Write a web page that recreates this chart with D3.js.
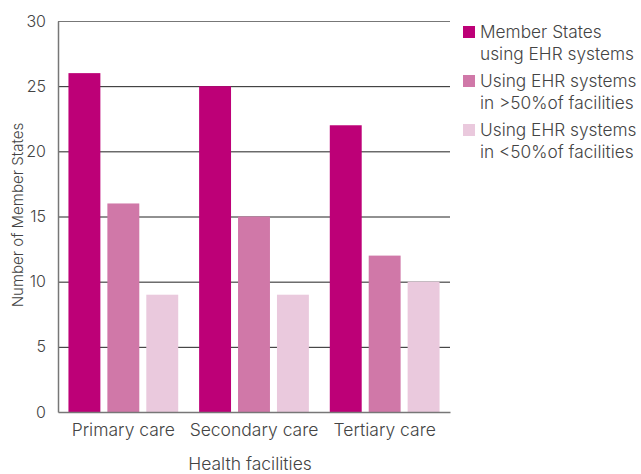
<!DOCTYPE html>
<html><head><meta charset="utf-8">
<script src="https://cdn.jsdelivr.net/npm/d3@7"></script>
<style>body{margin:0;background:#fff}text{font-family:Inter,"Noto Sans",sans-serif;font-weight:300}</style>
</head><body><svg id="c" width="641" height="474"></svg>
<script>
const categories = ["Primary care","Secondary care","Tertiary care"];
const seriesNames = [["Member States","using EHR systems"],["Using EHR systems","in >50%of facilities"],["Using EHR systems","in <50%of facilities"]];
const memberStates = [26,25,22];
const above50 = [16,15,12];
const below50 = [9,9,10];
const yTicks = [0,5,10,15,20,25,30];
const colors = ["#BD0077","#D078A8","#EAC9DD"];
const series = [memberStates, above50, below50];

const svg = d3.select("#c");
const L=58, R=450, T=21, B=412;
const x0 = d3.scaleBand().domain(categories).range([L,R]).paddingInner(0.16).paddingOuter(0.08);
const x1 = d3.scaleBand().domain([0,1,2]).range([0,x0.bandwidth()]).paddingInner(0.18);
const y = d3.scaleLinear().domain([0,30]).range([B,T]);

// gridlines
svg.append("g").selectAll("line").data(yTicks.filter(d=>d>0)).join("line")
 .attr("x1",L).attr("x2",R).attr("y1",d=>y(d)+0.5).attr("y2",d=>y(d)+0.5)
 .attr("stroke",d=>d===30?"#777":"#222").attr("stroke-width",1);

// bars
categories.forEach((c,i)=>{
  series.forEach((s,j)=>{
    svg.append("rect").attr("x",x0(c)+x1(j)).attr("width",x1.bandwidth())
      .attr("y",y(s[i])).attr("height",y(0)-y(s[i])).attr("fill",colors[j]);
  });
});

// axes
const ya = svg.append("g").attr("transform",`translate(${L},0)`)
  .call(d3.axisLeft(y).tickValues(yTicks).tickSize(0).tickPadding(12));
ya.select(".domain").attr("stroke","#777").attr("stroke-width",1.5);
ya.selectAll("text").attr("font-size",16).attr("fill","#444").attr("font-family","Inter,sans-serif");
const xa = svg.append("g").attr("transform",`translate(0,${B})`)
  .call(d3.axisBottom(x0).tickSize(0).tickPadding(12));
xa.select(".domain").attr("stroke","#777").attr("stroke-width",1.5);
xa.selectAll("text").attr("font-size",17.5).attr("fill","#444").attr("font-family","Inter,sans-serif");

svg.append("text").attr("x",250).attr("y",470).attr("text-anchor","middle")
  .attr("font-size",17.5).attr("fill","#444").text("Health facilities");
svg.append("text").attr("transform","translate(23,215) rotate(-90)").attr("text-anchor","middle")
  .attr("font-size",15).attr("fill","#444").text("Number of Member States");

// legend
const lg = svg.append("g");
seriesNames.forEach((n,j)=>{
  const yy = 26 + j*49;
  lg.append("rect").attr("x",463).attr("y",yy).attr("width",12).attr("height",12).attr("fill",colors[j]);
  n.forEach((t,k)=>{
    lg.append("text").attr("x",480).attr("y",yy+12+k*22).attr("font-size",17.3).attr("fill","#444").text(t);
  });
});
</script></body></html>
